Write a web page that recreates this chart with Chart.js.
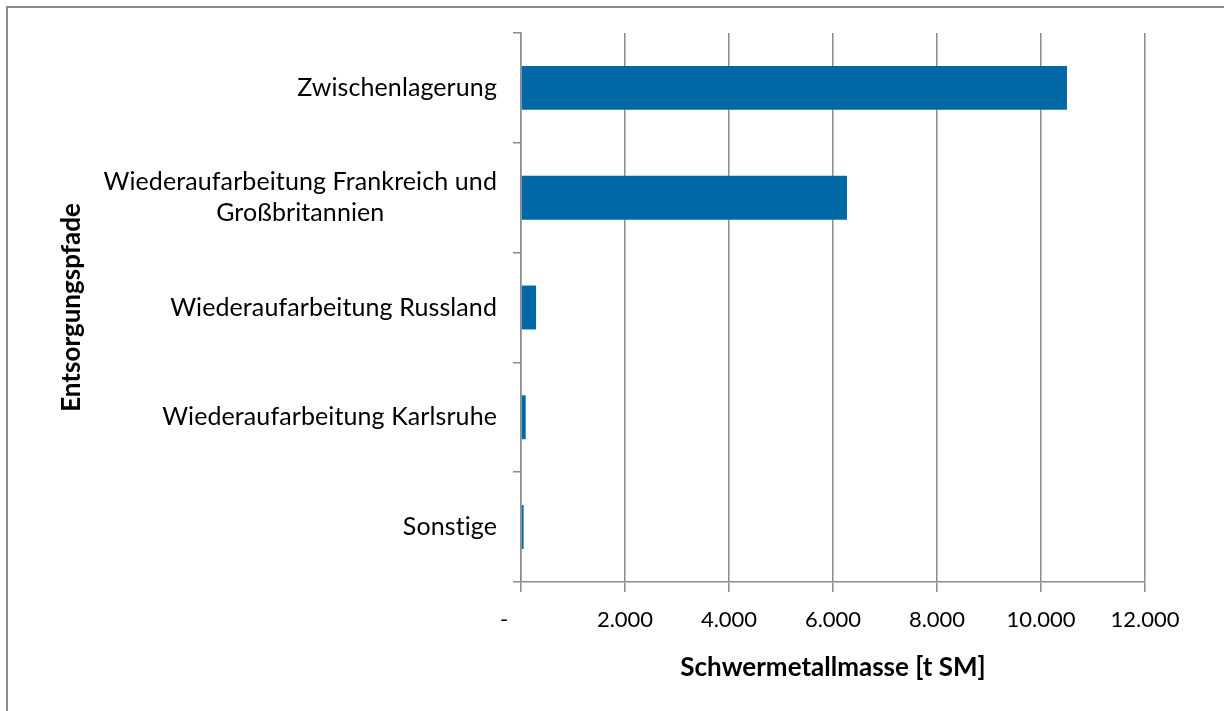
<!DOCTYPE html>
<html lang="de">
<head>
<meta charset="utf-8">
<title>Entsorgungspfade</title>
<script src="https://cdn.jsdelivr.net/npm/chart.js@4/dist/chart.umd.min.js"></script>
<style>
  html, body { margin: 0; padding: 0; background: #fff; }
  #wrap { position: relative; width: 1224px; height: 711px; overflow: hidden; }
  #frame { position: absolute; left: 6px; top: 6px; width: 1300px; height: 800px;
           border-left: 2px solid #8c8c8c; border-top: 2px solid #8c8c8c; box-sizing: border-box; }
  canvas { position: absolute; left: 0; top: 0; }
</style>
</head>
<body>
<div id="wrap">
  <div id="frame"></div>
  <canvas id="c" width="1224" height="711"></canvas>
</div>
<script>
// ---- data ----
const categories = [
  'Zwischenlagerung',
  ['Wiederaufarbeitung Frankreich und', 'Großbritannien'],
  'Wiederaufarbeitung Russland',
  'Wiederaufarbeitung Karlsruhe',
  'Sonstige'
];
const massValues = [10500, 6270, 290, 90, 50];
const xTickValues = [0, 2000, 4000, 6000, 8000, 10000, 12000];
const xTickLabels = ['-', '2.000', '4.000', '6.000', '8.000', '10.000', '12.000'];
const xTitle = 'Schwermetallmasse [t SM]';
const yTitle = 'Entsorgungspfade';

// ---- style ----
const FONT = 'Lato, "Open Sans", sans-serif';
const GRID = '#8c8c8c';
const BAR = '#0068a5';
const LABEL_SIZE = 25;
const TICK_SIZE = 22;
const TITLE_SIZE = 26;
const LABEL_LINE = 31;

// y category labels: block right-aligned to axis, lines centred within block
const yLabelPlugin = {
  id: 'yLabels',
  afterDraw(chart) {
    const ys = chart.scales.y;
    const ctx = chart.ctx;
    ctx.save();
    ctx.font = LABEL_SIZE + 'px ' + FONT;
    if ('letterSpacing' in ctx) ctx.letterSpacing = '0.1px';
    ctx.fillStyle = '#000';
    ctx.textBaseline = 'middle';
    ctx.textAlign = 'center';
    const xRight = ys.right - 8 - 16;
    categories.forEach((lab, i) => {
      const lines = Array.isArray(lab) ? lab : [lab];
      const w = Math.max(...lines.map(l => ctx.measureText(l).width));
      const cx = xRight - w / 2;
      const cy = ys.getPixelForValue(i);
      lines.forEach((l, j) => {
        ctx.fillText(l, cx, cy + (j - (lines.length - 1) / 2) * LABEL_LINE);
      });
    });
    ctx.restore();
  }
};

new Chart(document.getElementById('c'), {
  type: 'bar',
  data: {
    labels: categories,
    datasets: [{
      data: massValues,
      backgroundColor: BAR,
      borderWidth: 0,
      categoryPercentage: 1.0,
      barPercentage: 0.4
    }]
  },
  options: {
    indexAxis: 'y',
    responsive: false,
    animation: false,
    devicePixelRatio: 1,
    layout: { padding: { top: 33, right: 79, bottom: 0, left: 0 } },
    plugins: { legend: { display: false }, tooltip: { enabled: false } },
    scales: {
      x: {
        min: 0, max: 12000,
        afterFit(scale) { scale.height = 129; },
        afterBuildTicks(scale) { scale.ticks = xTickValues.map(v => ({ value: v })); },
        grid: { color: GRID, lineWidth: 1.5, tickLength: 10, drawOnChartArea: true },
        border: { color: GRID, width: 1.5 },
        ticks: {
          font: { family: FONT, size: TICK_SIZE },
          color: '#000',
          padding: 15,
          maxRotation: 0,
          autoSkip: false,
          callback(value) {
            const i = xTickValues.indexOf(value);
            return i === 0 ? xTickLabels[0] + '      ' : xTickLabels[i];
          }
        },
        title: {
          display: true,
          text: xTitle,
          color: '#000',
          font: { family: FONT, size: TITLE_SIZE, weight: 'bold' },
          padding: { top: 0, bottom: 28 }
        }
      },
      y: {
        afterFit(scale) { scale.width = 521; },
        grid: { color: GRID, lineWidth: 1.5, tickLength: 8, drawOnChartArea: false, offset: true },
        border: { color: GRID, width: 1.5 },
        ticks: { display: false },
        title: {
          display: true,
          text: yTitle,
          color: '#000',
          font: { family: FONT, size: TITLE_SIZE, weight: 'bold' },
          padding: { top: 56, bottom: 0 }
        }
      }
    }
  },
  plugins: [yLabelPlugin]
});
</script>
</body>
</html>
